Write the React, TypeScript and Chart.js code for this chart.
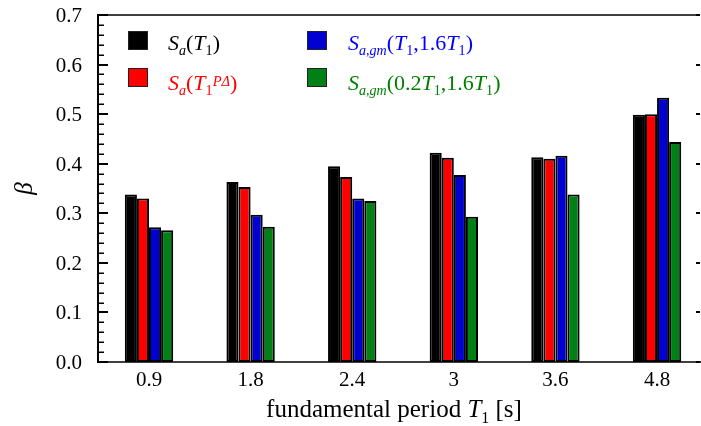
import React, { useEffect, useRef } from 'react';
import { Chart, registerables } from 'chart.js';
Chart.register(...registerables);

// ---------- data ----------
const categories = ['0.9', '1.8', '2.4', '3', '3.6', '4.8'];
const saT1 = [0.338, 0.363, 0.395, 0.422, 0.413, 0.499];
const saT1PD = [0.330, 0.353, 0.373, 0.412, 0.410, 0.500];
const sagmT1 = [0.272, 0.297, 0.330, 0.377, 0.416, 0.533];
const sagm02 = [0.266, 0.273, 0.325, 0.293, 0.338, 0.444];
const yTicks = [0, 0.1, 0.2, 0.3, 0.4, 0.5, 0.6, 0.7];
const yTickLabels = ['0.0', '0.1', '0.2', '0.3', '0.4', '0.5', '0.6', '0.7'];
const yMinorStep = 0.02;
const yTitle = 'β';

const FONT = '"Liberation Serif", "Times New Roman", serif';

type Seg = { t: string; i?: boolean; sub?: boolean; sup?: boolean };

const legendItems: { fill: string; textColor: string; text: Seg[]; col: number; row: number }[] = [
  { fill: '#000000', textColor: '#000000', col: 0, row: 0,
    text: [{ t: 'S', i: true }, { t: 'a', i: true, sub: true }, { t: '(' }, { t: 'T', i: true }, { t: '1', sub: true }, { t: ')' }] },
  { fill: '#ff0000', textColor: '#ff0000', col: 0, row: 1,
    text: [{ t: 'S', i: true }, { t: 'a', i: true, sub: true }, { t: '(' }, { t: 'T', i: true }, { t: '1', sub: true }, { t: 'PΔ', i: true, sup: true }, { t: ')' }] },
  { fill: '#0000d0', textColor: '#0000ff', col: 1, row: 0,
    text: [{ t: 'S', i: true }, { t: 'a,gm', i: true, sub: true }, { t: '(' }, { t: 'T', i: true }, { t: '1', sub: true }, { t: ',1.6' }, { t: 'T', i: true }, { t: '1', sub: true }, { t: ')' }] },
  { fill: '#008015', textColor: '#008000', col: 1, row: 1,
    text: [{ t: 'S', i: true }, { t: 'a,gm', i: true, sub: true }, { t: '(0.2' }, { t: 'T', i: true }, { t: '1', sub: true }, { t: ',1.6' }, { t: 'T', i: true }, { t: '1', sub: true }, { t: ')' }] },
];

const xTitle: Seg[] = [{ t: 'fundamental period ' }, { t: 'T', i: true }, { t: '1', sub: true }, { t: ' [s]' }];

function segFont(s: Seg, size: number) {
  const fs = s.sub ? size * 0.64 : s.sup ? size * 0.66 : size;
  return `${s.i ? 'italic ' : ''}${fs}px ${FONT}`;
}

function richWidth(ctx: CanvasRenderingContext2D, segs: Seg[], size: number) {
  let w = 0;
  for (const s of segs) {
    ctx.font = segFont(s, size);
    w += ctx.measureText(s.t).width;
  }
  return w;
}

function drawRich(ctx: CanvasRenderingContext2D, segs: Seg[], x: number, baseline: number, size: number, color: string) {
  let cx = x;
  ctx.textAlign = 'left';
  ctx.textBaseline = 'alphabetic';
  ctx.fillStyle = color;
  for (const s of segs) {
    ctx.font = segFont(s, size);
    const dy = s.sub ? size * 0.22 : s.sup ? -size * 0.2 : 0;
    ctx.fillText(s.t, cx, baseline + dy);
    cx += ctx.measureText(s.t).width;
  }
}

const decorPlugin = {
  id: 'decor',
  afterDraw(chart: any) {
    const ctx: CanvasRenderingContext2D = chart.ctx;
    const { left, right, top, bottom } = chart.chartArea;
    const y = chart.scales.y;
    const x = chart.scales.x;
    ctx.save();
    ctx.strokeStyle = '#000';
    // frame
    ctx.lineWidth = 1.5;
    ctx.beginPath();
    ctx.moveTo(left, top); ctx.lineTo(right - 2, top);
    ctx.stroke();
    ctx.lineWidth = 2;
    ctx.beginPath();
    ctx.moveTo(left, top - 1); ctx.lineTo(left, bottom + 1);
    ctx.stroke();
    ctx.lineWidth = 1.5;
    ctx.beginPath();
    ctx.moveTo(left, bottom); ctx.lineTo(chart.width, bottom);
    ctx.stroke();
    // left minor ticks
    const minTick = yTicks[0], maxTick = yTicks[yTicks.length - 1];
    const n = Math.round((maxTick - minTick) / yMinorStep);
    ctx.lineWidth = 1.5;
    for (let k = 0; k <= n; k++) {
      const v = minTick + k * yMinorStep;
      const py = Math.round(y.getPixelForValue(v)) + 0.25;
      ctx.beginPath(); ctx.moveTo(left, py); ctx.lineTo(left + 6, py); ctx.stroke();
    }
    // major ticks + labels
    ctx.lineWidth = 2;
    ctx.fillStyle = '#000';
    ctx.font = `21px ${FONT}`;
    ctx.textAlign = 'right';
    ctx.textBaseline = 'middle';
    yTicks.forEach((v, k) => {
      const py = Math.round(y.getPixelForValue(v));
      ctx.beginPath(); ctx.moveTo(left, py); ctx.lineTo(left + 10, py); ctx.stroke();
      ctx.beginPath(); ctx.moveTo(right - 3, py); ctx.lineTo(right + 1, py); ctx.stroke();
      ctx.fillText(yTickLabels[k], left - 16, py + 1);
    });
    // x labels
    ctx.textAlign = 'center';
    categories.forEach((c, i) => {
      ctx.fillText(c, x.getPixelForValue(i), bottom + 18);
    });
    // y title
    ctx.save();
    ctx.translate(25, (top + bottom) / 2);
    ctx.rotate(-Math.PI / 2);
    ctx.font = `italic 25px ${FONT}`;
    ctx.textAlign = 'center';
    ctx.textBaseline = 'middle';
    ctx.fillText(yTitle, 0, 0);
    ctx.restore();
    // legend
    const colX = [128, 307];
    const textX = [168, 348];
    const rowY = [31, 68];
    const baseY = [50, 90];
    for (const it of legendItems) {
      ctx.fillStyle = it.fill;
      ctx.fillRect(colX[it.col], rowY[it.row], 20, 19);
      ctx.lineWidth = 1;
      ctx.strokeStyle = '#222';
      ctx.strokeRect(colX[it.col] + 0.5, rowY[it.row] + 0.5, 19, 18);
      drawRich(ctx, it.text, textX[it.col], baseY[it.row], 22, it.textColor);
    }
    // x title
    const size = 25;
    const w = richWidth(ctx, xTitle, size);
    drawRich(ctx, xTitle, 394 - w / 2, 417, size, '#000');
    ctx.restore();
  },
};

export default function App() {
  const ref = useRef<HTMLCanvasElement>(null);
  useEffect(() => {
    document.body.style.margin = '0';
    const canvas = ref.current!;
    const mk = (label: string, data: number[], color: string) => ({
      label,
      data: data.map((v, i) => ({ x: i, y: v })),
      backgroundColor: color,
      borderColor: '#000',
      borderWidth: 2,
      borderSkipped: false,
    });
    const chart = new Chart(canvas, {
      type: 'bar',
      data: {
        datasets: [
          mk('Sa(T1)', saT1, '#000000'),
          mk('Sa(T1PΔ)', saT1PD, '#ff0000'),
          mk('Sa,gm(T1,1.6T1)', sagmT1, '#0000d0'),
          mk('Sa,gm(0.2T1,1.6T1)', sagm02, '#008015'),
        ],
      },
      options: {
        responsive: false,
        animation: false,
        layout: { padding: { top: 15, right: 2, left: 98, bottom: 64 } },
        plugins: { legend: { display: false }, tooltip: { enabled: false } },
        datasets: { bar: { categoryPercentage: 0.52, barPercentage: 1 } },
        scales: {
          x: {
            type: 'linear',
            display: false,
            offset: false,
            bounds: 'data',
            min: -0.502,
            max: 5.413,
            grid: { offset: false },
          },
          y: {
            type: 'linear',
            display: false,
            bounds: 'data',
            min: 0,
            max: 0.7,
          },
        },
      },
      plugins: [decorPlugin],
    } as any);
    return () => chart.destroy();
  }, []);
  return (
    <canvas
      ref={ref}
      width={701}
      height={426}
      style={{ position: 'absolute', left: 0, top: 0, width: 701, height: 426 }}
    />
  );
}
